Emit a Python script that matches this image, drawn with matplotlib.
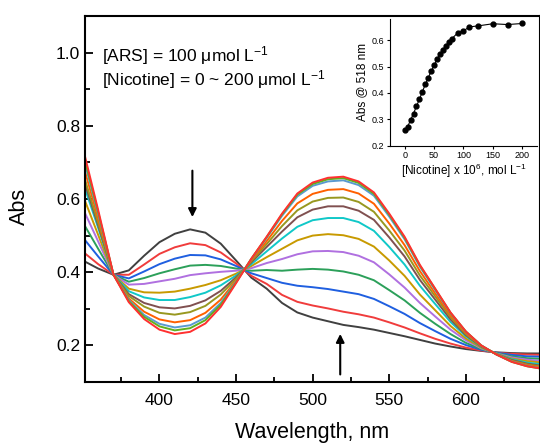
import numpy as np
import matplotlib
matplotlib.use("Agg")
import matplotlib.pyplot as plt

plt.rcParams['font.family'] = ['Liberation Sans', 'DejaVu Sans']
plt.rcParams['mathtext.default'] = 'regular'

# wavelength grid (nm)
wavelength = [350, 360, 370, 380, 390, 400, 410, 420, 430, 440, 450,
              460, 470, 480, 490, 500, 510, 520, 530, 540, 550,
              560, 570, 580, 590, 600, 610, 620, 630, 640, 650]

# absorbance spectra, 0 -> 200 umol/L nicotine
spec_01 = [0.432, 0.410, 0.393, 0.405, 0.445, 0.482, 0.505, 0.517, 0.508, 0.478, 0.432,
           0.385, 0.355, 0.316, 0.290, 0.276, 0.266, 0.256, 0.250, 0.243, 0.234,
           0.225, 0.215, 0.205, 0.197, 0.190, 0.185, 0.181, 0.179, 0.178, 0.178]
spec_02 = [0.456, 0.422, 0.393, 0.393, 0.421, 0.450, 0.468, 0.479, 0.474, 0.454, 0.424,
           0.390, 0.368, 0.338, 0.319, 0.309, 0.301, 0.292, 0.285, 0.276, 0.263,
           0.249, 0.233, 0.218, 0.205, 0.194, 0.186, 0.180, 0.177, 0.175, 0.174]
spec_03 = [0.495, 0.443, 0.393, 0.383, 0.402, 0.422, 0.437, 0.447, 0.446, 0.435, 0.417,
           0.397, 0.384, 0.371, 0.363, 0.359, 0.354, 0.347, 0.340, 0.327, 0.307,
           0.286, 0.261, 0.239, 0.218, 0.201, 0.188, 0.180, 0.174, 0.170, 0.169]
spec_04 = [0.536, 0.464, 0.393, 0.374, 0.384, 0.397, 0.408, 0.418, 0.420, 0.417, 0.410,
           0.404, 0.406, 0.404, 0.407, 0.409, 0.407, 0.402, 0.393, 0.378, 0.351,
           0.323, 0.289, 0.259, 0.231, 0.207, 0.190, 0.179, 0.170, 0.165, 0.163]
spec_05 = [0.574, 0.484, 0.393, 0.366, 0.368, 0.375, 0.382, 0.392, 0.397, 0.401, 0.404,
           0.411, 0.425, 0.436, 0.449, 0.457, 0.458, 0.455, 0.445, 0.427, 0.394,
           0.358, 0.316, 0.279, 0.243, 0.214, 0.192, 0.178, 0.167, 0.161, 0.157]
spec_06 = [0.610, 0.502, 0.393, 0.355, 0.345, 0.344, 0.347, 0.355, 0.365, 0.378, 0.396,
           0.417, 0.441, 0.464, 0.487, 0.500, 0.504, 0.501, 0.491, 0.470, 0.432,
           0.390, 0.339, 0.296, 0.253, 0.219, 0.194, 0.177, 0.164, 0.157, 0.153]
spec_07 = [0.646, 0.521, 0.393, 0.348, 0.331, 0.324, 0.324, 0.332, 0.344, 0.364, 0.391,
           0.422, 0.457, 0.492, 0.524, 0.542, 0.548, 0.548, 0.537, 0.513, 0.469,
           0.421, 0.363, 0.313, 0.264, 0.225, 0.196, 0.177, 0.162, 0.153, 0.148]
spec_08 = [0.660, 0.528, 0.393, 0.340, 0.316, 0.304, 0.301, 0.308, 0.323, 0.349, 0.386,
           0.427, 0.469, 0.511, 0.550, 0.571, 0.580, 0.580, 0.568, 0.543, 0.495,
           0.443, 0.379, 0.325, 0.271, 0.228, 0.197, 0.176, 0.160, 0.150, 0.144]
spec_09 = [0.672, 0.535, 0.393, 0.335, 0.306, 0.289, 0.284, 0.291, 0.308, 0.339, 0.382,
           0.430, 0.477, 0.526, 0.569, 0.593, 0.603, 0.604, 0.592, 0.565, 0.514,
           0.459, 0.391, 0.334, 0.277, 0.231, 0.198, 0.176, 0.158, 0.148, 0.142]
spec_10 = [0.696, 0.547, 0.393, 0.328, 0.292, 0.271, 0.263, 0.269, 0.289, 0.325, 0.377,
           0.433, 0.485, 0.540, 0.588, 0.614, 0.625, 0.627, 0.615, 0.587, 0.533,
           0.474, 0.403, 0.342, 0.282, 0.234, 0.199, 0.176, 0.157, 0.146, 0.140]
spec_11 = [0.718, 0.559, 0.393, 0.324, 0.283, 0.259, 0.249, 0.255, 0.276, 0.316, 0.374,
           0.436, 0.494, 0.554, 0.607, 0.636, 0.648, 0.651, 0.638, 0.609, 0.552,
           0.490, 0.415, 0.351, 0.288, 0.237, 0.200, 0.175, 0.156, 0.144, 0.137]
spec_12 = [0.728, 0.564, 0.393, 0.321, 0.278, 0.252, 0.241, 0.247, 0.269, 0.311, 0.372,
           0.437, 0.496, 0.558, 0.612, 0.641, 0.654, 0.657, 0.644, 0.614, 0.557,
           0.494, 0.418, 0.354, 0.289, 0.238, 0.200, 0.175, 0.155, 0.143, 0.136]
spec_13 = [0.740, 0.570, 0.393, 0.318, 0.272, 0.243, 0.231, 0.237, 0.260, 0.305, 0.370,
           0.437, 0.497, 0.560, 0.615, 0.645, 0.658, 0.661, 0.648, 0.618, 0.560,
           0.497, 0.420, 0.355, 0.290, 0.238, 0.200, 0.175, 0.155, 0.143, 0.136]

spectra = [spec_01, spec_02, spec_03, spec_04, spec_05, spec_06, spec_07,
           spec_08, spec_09, spec_10, spec_11, spec_12, spec_13]
colors = ['#404040', '#f03c3c', '#1f5fe0', '#2ca05a', '#b070e0', '#c89a00', '#10c8c8',
          '#805050', '#989820', '#ff6000', '#5a9ad0', '#60b020', '#ff3030']

# inset: titration curve
nicotine = [0, 5, 10, 15, 20, 25, 30, 35, 40, 45, 50, 55, 60, 65, 70, 75, 80,
            90, 100, 110, 125, 150, 175, 200]
abs_518 = [0.258, 0.272, 0.297, 0.322, 0.349, 0.376, 0.404, 0.432, 0.457, 0.482,
           0.505, 0.528, 0.548, 0.563, 0.578, 0.592, 0.605, 0.627, 0.635, 0.650,
           0.654, 0.662, 0.659, 0.663]

fig = plt.figure(figsize=(5.4, 4.43), dpi=100)
ax = fig.add_axes([0.1574, 0.1377, 0.8426, 0.8262])

for spec, c in zip(spectra, colors):
    ax.plot(wavelength, spec, color=c, lw=1.4)

ax.set_xlim(351.4, 648.4)
ax.set_ylim(0.1, 1.1)
ax.set_xticks([400, 450, 500, 550, 600])
ax.set_xticks([375, 425, 475, 525, 575, 625], minor=True)
ax.set_yticks([0.2, 0.4, 0.6, 0.8, 1.0])
ax.set_yticks([0.3, 0.5, 0.7, 0.9], minor=True)
ax.tick_params(which='major', direction='in', length=6, width=1.3, labelsize=12.5)
ax.tick_params(which='minor', direction='in', length=3.5, width=1.3)
ax.tick_params(axis='x', pad=8)
for s in ax.spines.values():
    s.set_linewidth(1.5)

ax.set_xlabel('Wavelength, nm', fontsize=15.5)
ax.xaxis.set_label_coords(0.5, -0.138)
ax.xaxis.label.set_va('center')
ax.set_ylabel('Abs', fontsize=15.5)
ax.yaxis.set_label_coords(-0.143, 0.481)
ax.yaxis.label.set_va('center')

ax.text(362.3, 0.993, '[ARS] = 100 \u03bcmol L$^{-1}$', fontsize=12.5, va='center')
ax.text(362.3, 0.925, '[Nicotine] = 0 ~ 200 \u03bcmol L$^{-1}$', fontsize=12.5, va='center')

ax.annotate('', xy=(421.5, 0.543), xytext=(421.5, 0.685),
            arrowprops=dict(arrowstyle='-|>', color='black', lw=1.5, mutation_scale=12))
ax.annotate('', xy=(518, 0.239), xytext=(518, 0.113),
            arrowprops=dict(arrowstyle='-|>', color='black', lw=1.5, mutation_scale=12))

# inset
axin = fig.add_axes([0.7222, 0.6711, 0.2722, 0.286])
axin.patch.set_alpha(0)
axin.plot(nicotine, abs_518, color='black', lw=0.8, marker='o', ms=3.5)
axin.set_xlim(-25, 225)
axin.set_ylim(0.2, 0.68)
axin.set_xticks([0, 50, 100, 150, 200])
axin.set_yticks([0.2, 0.3, 0.4, 0.5, 0.6])
axin.spines['top'].set_visible(False)
axin.spines['right'].set_visible(False)
axin.tick_params(direction='out', length=2, width=0.8, labelsize=6.5, pad=2)
axin.set_ylabel('Abs @ 518 nm', fontsize=8.5, labelpad=3)
axin.set_xlabel('[Nicotine] x 10$^{6}$, mol L$^{-1}$', fontsize=8.5, labelpad=1)

fig.savefig('out.png', dpi=100)
